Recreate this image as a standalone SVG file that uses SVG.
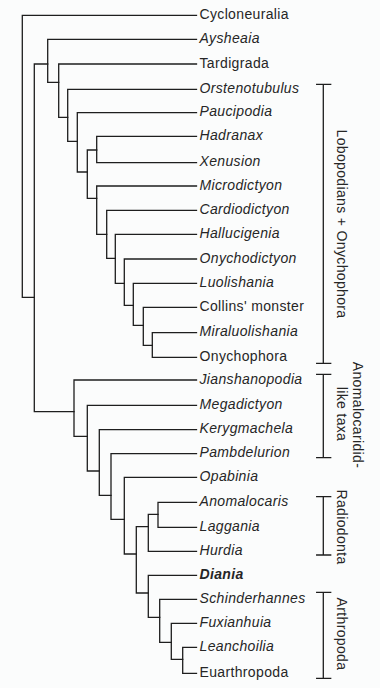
<svg xmlns="http://www.w3.org/2000/svg" width="380" height="688" viewBox="0 0 380 688">
<style>
  .ln { fill: none; stroke: #1e1e1e; stroke-width: 1.3; stroke-linecap: square; }
  .t { font-family: "Liberation Sans", Arial, sans-serif; font-size: 14px; letter-spacing: 0.35px; fill: #262626; }
  .i { font-style: italic; }
  .b { font-weight: bold; }
  .lab { font-family: "Liberation Sans", Arial, sans-serif; font-size: 14px; letter-spacing: 0.35px; fill: #262626; text-anchor: middle; }
</style>
<rect x="0" y="0" width="380" height="688" fill="#fbfcfc"/>
<g id="connectors" class="ln">
  <path d="M22.3,15.3 H196.5 M22.3,15.3 V297.3 H34.3"/>
  <path d="M34.3,64 V411.7 M34.3,64 H47.7 M34.3,411.7 H74"/>
  <path d="M47.7,39.3 V82.3 M47.7,39.3 H196.5 M47.7,82.3 H58.7"/>
  <path d="M58.7,64 V117.3 M58.7,64 H196.5 M58.7,117.3 H67.7"/>
  <path d="M67.7,89.3 V141.3 M67.7,89.3 H196.5 M67.7,141.3 H77.3"/>
  <path d="M77.3,112.7 V172 M77.3,112.7 H196.5 M77.3,172 H87.3"/>
  <path d="M87.3,150 V198.3 M87.3,150 H96.7 M87.3,198.3 H96.7"/>
  <path d="M96.7,136.3 V162.7 M96.7,136.3 H196.5 M96.7,162.7 H196.5"/>
  <path d="M96.7,186 V234.3 M96.7,186 H196.5 M96.7,234.3 H106.7"/>
  <path d="M106.7,210.3 V258.3 M106.7,210.3 H196.5 M106.7,258.3 H115.3"/>
  <path d="M115.3,234.3 V283.3 M115.3,234.3 H196.5 M115.3,283.3 H124.3"/>
  <path d="M124.3,259 V305.3 M124.3,259 H196.5 M124.3,305.3 H133.3"/>
  <path d="M133.3,283.3 V325.3 M133.3,283.3 H196.5 M133.3,325.3 H143.3"/>
  <path d="M143.3,307.3 V345.3 M143.3,307.3 H196.5 M143.3,345.3 H152.3"/>
  <path d="M152.3,332.7 V357.3 M152.3,332.7 H196.5 M152.3,357.3 H196.5"/>
  <path d="M74,380 V436.3 M74,380 H196.5 M74,436.3 H87.3"/>
  <path d="M87.3,405.3 V471 M87.3,405.3 H196.5 M87.3,471 H99.3"/>
  <path d="M99.3,429.7 V495.3 M99.3,429.7 H196.5 M99.3,495.3 H111"/>
  <path d="M111,453.7 V519.3 M111,453.7 H196.5 M111,519.3 H124.3"/>
  <path d="M124.3,477.3 V554 M124.3,477.3 H196.5 M124.3,554 H136.3"/>
  <path d="M136.3,526.7 V593 M136.3,526.7 H148.3 M136.3,593 H148.3"/>
  <path d="M148.3,514.3 V551.3 M148.3,514.3 H158 M148.3,551.3 H196.5"/>
  <path d="M158,502.3 V527.3 M158,502.3 H196.5 M158,527.3 H196.5"/>
  <path d="M148.3,575.3 V617.3 M148.3,575.3 H196.5 M148.3,617.3 H159.7"/>
  <path d="M159.7,599.3 V642.3 M159.7,599.3 H196.5 M159.7,642.3 H171.3"/>
  <path d="M171.3,623.3 V659.3 M171.3,623.3 H196.5 M171.3,659.3 H182.7"/>
  <path d="M182.7,647.3 V673.3 M182.7,647.3 H196.5 M182.7,673.3 H196.5"/>
</g>
<g id="leaves">
  <g id="n-cycloneuralia"><text class="t" x="199.5" y="18.8">Cycloneuralia</text></g>
  <g id="n-aysheaia"><text class="t i" x="199.5" y="42.8">Aysheaia</text></g>
  <g id="n-tardigrada"><text class="t" x="199.5" y="67.5">Tardigrada</text></g>
  <g id="n-orstenotubulus"><text class="t i" x="199.5" y="92.8">Orstenotubulus</text></g>
  <g id="n-paucipodia"><text class="t i" x="199.5" y="116.2">Paucipodia</text></g>
  <g id="n-hadranax"><text class="t i" x="199.5" y="139.8">Hadranax</text></g>
  <g id="n-xenusion"><text class="t i" x="199.5" y="166.2">Xenusion</text></g>
  <g id="n-microdictyon"><text class="t i" x="199.5" y="189.5">Microdictyon</text></g>
  <g id="n-cardiodictyon"><text class="t i" x="199.5" y="213.8">Cardiodictyon</text></g>
  <g id="n-hallucigenia"><text class="t i" x="199.5" y="237.8">Hallucigenia</text></g>
  <g id="n-onychodictyon"><text class="t i" x="199.5" y="262.5">Onychodictyon</text></g>
  <g id="n-luolishania"><text class="t i" x="199.5" y="286.8">Luolishania</text></g>
  <g id="n-collins"><text class="t" x="199.5" y="310.8">Collins' monster</text></g>
  <g id="n-miraluolishania"><text class="t i" x="199.5" y="336.2">Miraluolishania</text></g>
  <g id="n-onychophora"><text class="t" x="199.5" y="360.8">Onychophora</text></g>
  <g id="n-jianshanopodia"><text class="t i" x="199.5" y="383.5">Jianshanopodia</text></g>
  <g id="n-megadictyon"><text class="t i" x="199.5" y="408.8">Megadictyon</text></g>
  <g id="n-kerygmachela"><text class="t i" x="199.5" y="433.2">Kerygmachela</text></g>
  <g id="n-pambdelurion"><text class="t i" x="199.5" y="457.2">Pambdelurion</text></g>
  <g id="n-opabinia"><text class="t i" x="199.5" y="480.8">Opabinia</text></g>
  <g id="n-anomalocaris"><text class="t i" x="199.5" y="505.8">Anomalocaris</text></g>
  <g id="n-laggania"><text class="t i" x="199.5" y="530.8">Laggania</text></g>
  <g id="n-hurdia"><text class="t i" x="199.5" y="554.8">Hurdia</text></g>
  <g id="n-diania"><text class="t i b" x="199.5" y="578.8">Diania</text></g>
  <g id="n-schinderhannes"><text class="t i" x="199.5" y="602.8">Schinderhannes</text></g>
  <g id="n-fuxianhuia"><text class="t i" x="199.5" y="626.8">Fuxianhuia</text></g>
  <g id="n-leanchoilia"><text class="t i" x="199.5" y="650.8">Leanchoilia</text></g>
  <g id="n-euarthropoda"><text class="t" x="199.5" y="676.8">Euarthropoda</text></g>
</g>
<g id="brackets" class="ln">
  <path d="M316.7,84.3 H330.7 M323.3,84.3 V363.3 M316.7,363.3 H330.7"/>
  <path d="M316.7,374.3 H330.7 M323.3,374.3 V457.7 M316.7,457.7 H330.7"/>
  <path d="M316.7,496.7 H330.7 M323.3,496.7 V555 M316.7,555 H330.7"/>
  <path d="M316.7,592.3 H330.7 M323.3,592.3 V678.3 M316.7,678.3 H330.7"/>
</g>
<g id="group-labels">
  <g id="g-lobopodians"><text class="lab" transform="translate(337,224) rotate(90)">Lobopodians + Onychophora</text></g>
  <g id="g-anomalocaridid"><text class="lab" transform="translate(353,415) rotate(90)">Anomalocaridid-</text><text class="lab" transform="translate(337,414) rotate(90)">like taxa</text></g>
  <g id="g-radiodonta"><text class="lab" transform="translate(337,527) rotate(90)">Radiodonta</text></g>
  <g id="g-arthropoda"><text class="lab" transform="translate(337,634) rotate(90)">Arthropoda</text></g>
</g>
</svg>
